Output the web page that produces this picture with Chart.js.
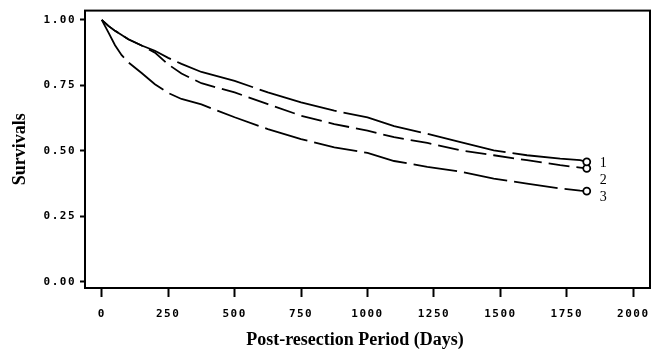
<!DOCTYPE html>
<html>
<head>
<meta charset="utf-8">
<script src="https://cdn.jsdelivr.net/npm/chart.js@4.4.1/dist/chart.umd.min.js"></script>
<style>
  html, body { margin: 0; padding: 0; background: #fff; }
</style>
</head>
<body>
<canvas id="km" width="659" height="351"></canvas>
<script>
const days = [0, 25, 50, 75, 100, 150, 200, 250, 300, 375, 500, 625, 750, 875, 1000, 1100, 1225, 1350, 1475, 1600, 1725, 1800, 1825];

// Survival estimate per group
const group1 = [1.0, 0.977, 0.958, 0.942, 0.926, 0.902, 0.882, 0.855, 0.832, 0.801, 0.767, 0.723, 0.685, 0.653, 0.628, 0.594, 0.565, 0.533, 0.502, 0.483, 0.470, 0.464, 0.458];
const group2 = [1.0, 0.977, 0.958, 0.942, 0.926, 0.902, 0.875, 0.830, 0.795, 0.758, 0.723, 0.678, 0.634, 0.602, 0.577, 0.552, 0.530, 0.502, 0.483, 0.464, 0.445, 0.436, 0.433];
const group3 = [1.0, 0.952, 0.903, 0.865, 0.838, 0.797, 0.754, 0.721, 0.698, 0.677, 0.628, 0.583, 0.545, 0.513, 0.492, 0.461, 0.439, 0.420, 0.394, 0.375, 0.356, 0.348, 0.346];
const groupNames = ['1', '2', '3'];

const xTicks = [0, 250, 500, 750, 1000, 1250, 1500, 1750, 2000];
const yTicks = [0, 0.25, 0.5, 0.75, 1];
const yTickLabels = ['0.00', '0.25', '0.50', '0.75', '1.00'];

const xTitle = 'Post-resection Period (Days)';
const yTitle = 'Survivals';

const black = '#000';
const tickFont = { family: '"DejaVu Sans Mono"', size: 11, weight: 'bold' };

// box round the plot, group numbers and the x title
const framePlugin = {
    id: 'frame',
    beforeDraw(chart) {
        chart.ctx.letterSpacing = '0px';
    },
    afterDatasetsDraw(chart) {
        const { ctx, chartArea: a, scales } = chart;
        ctx.save();
        ctx.strokeStyle = black;
        ctx.lineWidth = 2;
        ctx.strokeRect(a.left, a.top, a.right - a.left, a.bottom - a.top);

        ctx.fillStyle = black;
        ctx.font = '14px "Liberation Serif"';
        ctx.textAlign = 'left';
        ctx.textBaseline = 'middle';
        const lx = scales.x.getPixelForValue(days[days.length - 1]) + 13;
        const ly = scales.y.getPixelForValue(0.452);
        groupNames.forEach((name, i) => ctx.fillText(name, lx, ly + i * 17));

        ctx.font = 'bold 18px "Liberation Serif"';
        ctx.textAlign = 'center';
        ctx.fillText(xTitle, 355, 340);
        ctx.restore();

        // tick labels come after this (ticks.z = 1): wide old-printer spacing
        ctx.letterSpacing = '1.5px';
    }
};

const dashes = [[80, 7], [21, 7], [44, 7]];

new Chart(document.getElementById('km'), {
    type: 'line',
    data: {
        datasets: [group1, group2, group3].map((vals, i) => ({
            label: groupNames[i],
            data: days.map((d, j) => ({ x: d, y: vals[j] })),
            borderColor: black,
            borderWidth: 1.8,
            borderDash: dashes[i],
            tension: 0,
            fill: false,
            pointRadius: c => (c.dataIndex === days.length - 1 ? 3.5 : 0),
            pointBorderWidth: 1.8,
            pointBorderColor: black,
            pointBackgroundColor: '#fff'
        }))
    },
    options: {
        responsive: false,
        animation: false,
        layout: { padding: { left: 0, top: 10, right: 9, bottom: 0 } },
        plugins: { legend: { display: false }, tooltip: { enabled: false } },
        scales: {
            x: {
                type: 'linear',
                min: -63,
                max: 2063,
                afterFit: s => { s.height = 63; },
                afterBuildTicks: s => { s.ticks = xTicks.map(v => ({ value: v })); },
                border: { display: false },
                grid: { drawOnChartArea: false, tickLength: 9, tickColor: black, tickWidth: 2 },
                ticks: { z: 1, color: black, font: tickFont, padding: 11, maxRotation: 0, callback: v => String(v) }
            },
            y: {
                type: 'linear',
                min: -0.024,
                max: 1.0354,
                afterFit: s => { s.width = 85; },
                afterBuildTicks: s => { s.ticks = yTicks.map(v => ({ value: v })); },
                border: { display: false },
                grid: { drawOnChartArea: false, tickLength: 5, tickColor: black, tickWidth: 2 },
                ticks: { z: 1, color: black, font: tickFont, padding: 4, callback: (v, i) => yTickLabels[i] },
                title: {
                    display: true,
                    text: yTitle,
                    color: black,
                    font: { family: '"Liberation Serif"', size: 18, weight: 'bold' },
                    padding: { top: 10, bottom: 0 }
                }
            }
        }
    },
    plugins: [framePlugin]
});
</script>
</body>
</html>
